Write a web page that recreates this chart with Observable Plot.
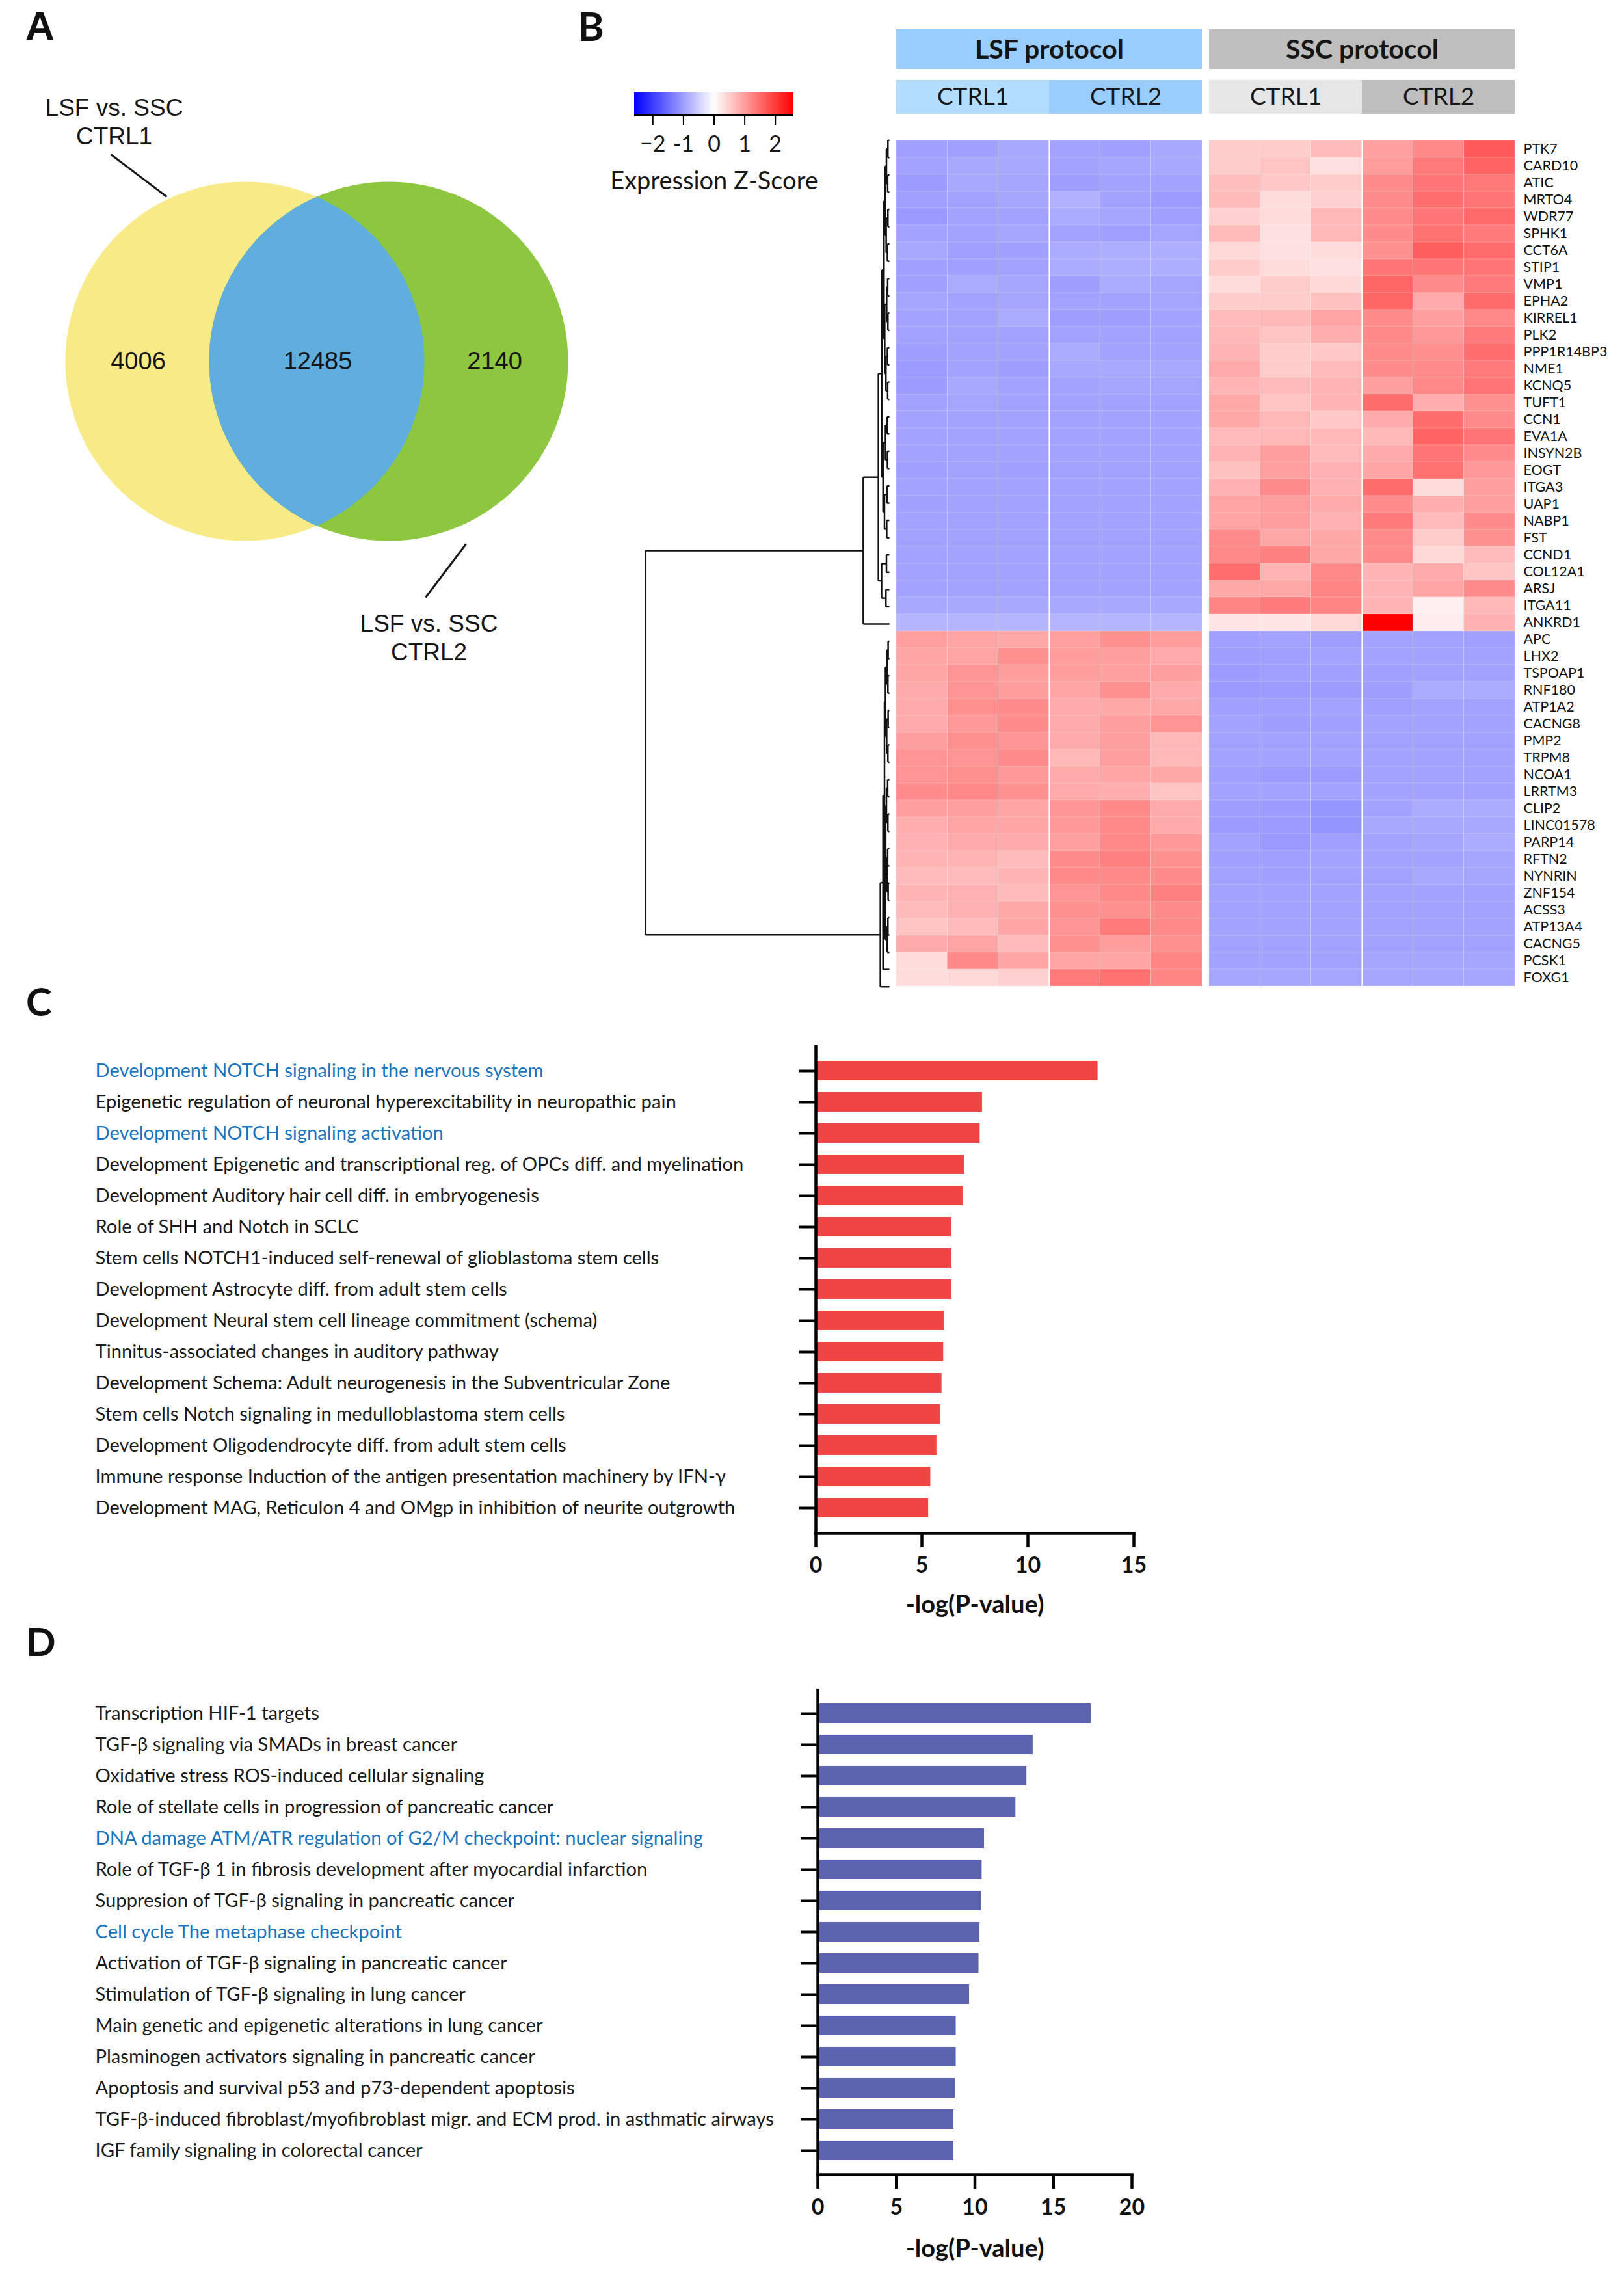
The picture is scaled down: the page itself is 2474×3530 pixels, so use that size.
<!DOCTYPE html>
<html><head><meta charset="utf-8">
<script src="https://cdn.jsdelivr.net/npm/d3@7"></script>
<script src="https://cdn.jsdelivr.net/npm/@observablehq/plot@0.6"></script>
<style>
html,body{margin:0;padding:0;background:#fff;}
#root{position:relative;width:2474px;height:3530px;background:#fff;overflow:hidden;}
.letter{position:absolute;font-weight:bold;color:#111;line-height:1;}
</style></head><body><div id="root"></div>
<script>
// ---------------- DATA ----------------
const vennSetNames = ["LSF vs. SSC\nCTRL1", "LSF vs. SSC\nCTRL2"];
const vennCounts = [4006, 12485, 2140]; // CTRL1 only, shared, CTRL2 only

const protocols = ["LSF protocol", "SSC protocol"];
const controls = ["CTRL1", "CTRL2"];
const replicates = 3;

const genes = ["PTK7","CARD10","ATIC","MRTO4","WDR77","SPHK1","CCT6A","STIP1","VMP1","EPHA2",
  "KIRREL1","PLK2","PPP1R14BP3","NME1","KCNQ5","TUFT1","CCN1","EVA1A","INSYN2B","EOGT",
  "ITGA3","UAP1","NABP1","FST","CCND1","COL12A1","ARSJ","ITGA11","ANKRD1",
  "APC","LHX2","TSPOAP1","RNF180","ATP1A2","CACNG8","PMP2","TRPM8","NCOA1","LRRTM3",
  "CLIP2","LINC01578","PARP14","RFTN2","NYNRIN","ZNF154","ACSS3","ATP13A4","CACNG5","PCSK1","FOXG1"];

// z-scores per gene: LSF CTRL1 x3, LSF CTRL2 x3, SSC CTRL1 x3, SSC CTRL2 x3
const zScores = [
  [-0.97,-0.97,-0.89,-0.94,-0.97,-0.89, 0.52,0.52,0.69,0.97,1.21,1.68],
  [-0.94,-0.89,-0.89,-0.94,-0.92,-0.89, 0.52,0.60,0.32,1.01,1.36,1.58],
  [-1.01,-0.89,-0.92,-0.99,-0.94,-0.94, 0.66,0.56,0.52,1.17,1.41,1.38],
  [-0.97,-0.94,-0.92,-0.81,-0.94,-1.01, 0.70,0.36,0.48,1.17,1.48,1.41],
  [-1.04,-0.94,-0.94,-0.87,-0.92,-0.97, 0.48,0.36,0.72,1.17,1.41,1.52],
  [-0.94,-0.94,-0.92,-0.94,-0.97,-0.92, 0.70,0.32,0.72,1.17,1.44,1.36],
  [-0.89,-0.97,-0.97,-0.86,-0.83,-0.83, 0.40,0.32,0.36,1.13,1.64,1.50],
  [-0.97,-0.97,-0.94,-0.87,-0.83,-0.83, 0.52,0.36,0.32,1.41,1.41,1.41],
  [-0.97,-0.87,-0.92,-0.99,-0.87,-0.92, 0.36,0.52,0.40,1.55,1.17,1.36],
  [-0.92,-0.94,-0.92,-0.94,-0.94,-0.92, 0.52,0.52,0.64,1.55,0.87,1.52],
  [-0.94,-0.94,-0.87,-0.99,-0.99,-0.94, 0.69,0.72,0.92,1.19,0.99,1.21],
  [-0.94,-0.94,-0.94,-0.94,-0.94,-0.94, 0.72,0.60,0.83,1.21,1.04,1.36],
  [-0.99,-0.94,-0.94,-0.87,-0.94,-0.94, 0.76,0.52,0.56,1.19,1.15,1.48],
  [-1.01,-0.94,-0.99,-0.89,-0.89,-0.89, 0.87,0.52,0.69,1.17,1.17,1.36],
  [-1.01,-0.89,-0.94,-0.94,-0.92,-0.92, 0.76,0.69,0.76,0.99,1.21,1.41],
  [-0.94,-0.92,-0.94,-0.94,-0.94,-0.94, 0.89,0.60,0.76,1.50,0.83,1.13],
  [-0.94,-0.94,-0.94,-0.94,-0.94,-0.94, 0.89,0.72,0.56,0.87,1.50,1.17],
  [-0.94,-0.94,-0.94,-0.94,-0.94,-0.94, 0.69,0.72,0.72,0.72,1.58,1.41],
  [-0.94,-0.94,-0.94,-0.94,-0.94,-0.94, 0.76,0.99,0.69,0.87,1.41,1.17],
  [-0.97,-0.94,-0.97,-0.94,-0.94,-0.94, 0.64,0.97,0.81,0.92,1.46,1.04],
  [-0.95,-0.95,-0.94,-0.94,-0.94,-0.94, 0.81,1.17,0.81,1.50,0.36,0.99],
  [-0.96,-0.95,-0.95,-0.95,-0.95,-0.95, 0.92,0.99,0.87,1.17,0.83,0.99],
  [-0.95,-0.94,-0.94,-0.94,-0.94,-0.94, 0.92,0.99,0.81,1.36,0.69,1.17],
  [-0.95,-0.95,-0.95,-0.95,-0.95,-0.95, 1.17,0.89,0.89,1.17,0.52,1.13],
  [-0.95,-0.95,-0.95,-0.95,-0.95,-0.95, 1.21,1.29,0.89,1.17,0.40,0.69],
  [-0.94,-0.94,-0.94,-0.94,-0.94,-0.94, 1.48,0.76,1.21,0.76,0.87,0.60],
  [-0.94,-0.94,-0.94,-0.94,-0.94,-0.94, 0.89,0.89,1.25,0.76,0.92,1.17],
  [-0.89,-0.89,-0.89,-0.89,-0.89,-0.89, 1.25,1.36,1.25,0.76,0.15,0.72],
  [-0.75,-0.75,-0.75,-0.75,-0.75,-0.75, 0.25,0.25,0.40,2.60,0.19,0.81],
  [0.97,0.92,0.89,0.97,1.13,1.01, -0.97,-0.94,-0.99,-0.94,-0.94,-0.97],
  [0.92,0.92,1.13,1.01,0.99,0.87, -0.99,-0.97,-0.94,-0.94,-0.94,-0.94],
  [0.92,1.09,1.01,1.01,0.97,0.99, -1.01,-0.97,-0.97,-0.97,-0.94,-0.94],
  [0.87,1.09,1.01,0.92,1.13,0.87, -1.04,-1.01,-1.01,-0.99,-0.87,-0.87],
  [0.87,1.13,1.17,0.87,0.89,0.89, -0.97,-0.97,-0.94,-0.97,-0.94,-0.94],
  [0.87,1.04,1.17,0.87,0.99,1.09, -0.94,-0.99,-0.97,-0.94,-0.94,-0.94],
  [0.99,1.13,1.09,0.87,0.99,0.72, -0.94,-0.94,-0.94,-0.94,-0.94,-0.94],
  [1.09,1.09,1.17,0.72,0.99,0.72, -0.94,-0.94,-0.94,-0.94,-0.94,-0.94],
  [1.09,1.13,1.04,0.87,0.92,0.89, -0.97,-1.01,-1.01,-0.94,-0.94,-0.94],
  [1.17,1.21,1.13,0.87,0.83,0.60, -0.94,-0.94,-0.94,-0.94,-0.94,-0.94],
  [0.99,0.99,0.92,1.09,1.21,0.87, -0.99,-1.01,-1.07,-0.94,-0.87,-0.87],
  [0.83,0.92,0.92,1.04,1.21,0.87, -1.01,-1.01,-1.09,-0.89,-0.89,-0.89],
  [0.81,0.87,0.87,0.97,1.21,1.04, -0.94,-1.04,-0.97,-0.94,-0.92,-0.86],
  [0.76,0.76,0.69,1.17,1.29,1.13, -0.97,-0.97,-0.94,-0.94,-0.94,-0.92],
  [0.69,0.69,0.76,1.21,1.21,1.17, -0.94,-0.97,-0.94,-0.94,-0.89,-0.92],
  [0.76,0.81,0.69,1.09,1.21,1.29, -0.94,-0.94,-0.94,-0.94,-0.94,-0.94],
  [0.69,0.81,0.89,1.13,1.13,1.17, -0.94,-0.94,-0.94,-0.94,-0.94,-0.94],
  [0.60,0.69,0.92,1.09,1.36,1.21, -0.94,-0.94,-0.94,-0.94,-0.94,-0.94],
  [0.87,0.92,0.69,1.13,1.01,1.13, -0.94,-0.94,-0.94,-0.94,-0.94,-0.94],
  [0.36,1.21,0.92,0.92,0.92,1.25, -0.94,-0.94,-0.94,-0.92,-0.92,-0.92],
  [0.36,0.40,0.48,1.36,1.46,1.25, -0.92,-0.92,-0.92,-0.92,-0.92,-0.92]
];

// row dendrogram, hclust-style merges: negative = gene (1-based), positive = earlier merge; third = height (root = 1)
const dendroMerges = [
  [-1,-2,.006],[-3,-4,.007],[-5,-6,.006],[-7,-8,.008],[-9,-10,.007],[-11,-12,.006],[-13,-14,.008],
  [-15,-16,.007],[-17,-18,.009],[-19,-20,.008],[-21,-22,.010],[-23,-24,.011],[-25,-26,.012],[-27,-28,.014],
  [1,2,.012],[3,4,.013],[5,6,.011],[7,8,.014],[9,10,.016],[11,12,.020],[13,14,.032],
  [15,16,.018],[17,18,.019],[22,23,.022],[19,20,.026],[24,25,.030],[26,21,.045],[27,-29,.107],
  [-30,-31,.005],[-32,-33,.006],[-34,-35,.005],[-36,-37,.006],[-38,-39,.007],[-40,-41,.006],
  [-42,-43,.007],[-44,-45,.005],[-46,-47,.006],
  [29,30,.010],[31,32,.011],[33,34,.012],[35,36,.010],[37,-48,.009],
  [38,39,.016],[40,41,.015],[44,42,.018],[43,45,.020],[46,-49,.026],[47,-50,.037],
  [28,48,1.0]
];

const zTicks = [-2, -1, 0, 1, 2];
const zTickLabels = ["\u22122", "-1", "0", "1", "2"];
const zLimit = 2.6;

const termsC = [
  "Development NOTCH signaling in the nervous system",
  "Epigenetic regulation of neuronal hyperexcitability in neuropathic pain",
  "Development NOTCH signaling activation",
  "Development Epigenetic and transcriptional reg. of OPCs diff. and myelination",
  "Development Auditory hair cell diff. in embryogenesis",
  "Role of SHH and Notch in SCLC",
  "Stem cells NOTCH1-induced self-renewal of glioblastoma stem cells",
  "Development Astrocyte diff. from adult stem cells",
  "Development Neural stem cell lineage commitment (schema)",
  "Tinnitus-associated changes in auditory pathway",
  "Development Schema: Adult neurogenesis in the Subventricular Zone",
  "Stem cells Notch signaling in medulloblastoma stem cells",
  "Development Oligodendrocyte diff. from adult stem cells",
  "Immune response Induction of the antigen presentation machinery by IFN-\u03b3",
  "Development MAG, Reticulon 4 and OMgp in inhibition of neurite outgrowth"
];
const logPC = [13.3, 7.85, 7.74, 7.0, 6.93, 6.4, 6.4, 6.4, 6.05, 6.02, 5.94, 5.87, 5.7, 5.41, 5.31];
const highlightC = ["Development NOTCH signaling in the nervous system", "Development NOTCH signaling activation"];
const ticksC = [0, 5, 10, 15];

const termsD = [
  "Transcription HIF-1 targets",
  "TGF-\u03b2 signaling via SMADs in breast cancer",
  "Oxidative stress ROS-induced cellular signaling",
  "Role of stellate cells in progression of pancreatic cancer",
  "DNA damage ATM/ATR regulation of G2/M checkpoint: nuclear signaling",
  "Role of TGF-\u03b2 1 in fibrosis development after myocardial infarction",
  "Suppresion of TGF-\u03b2 signaling in pancreatic cancer",
  "Cell cycle The metaphase checkpoint",
  "Activation of TGF-\u03b2 signaling in pancreatic cancer",
  "Stimulation of TGF-\u03b2 signaling in lung cancer",
  "Main genetic and epigenetic alterations in lung cancer",
  "Plasminogen activators signaling in pancreatic cancer",
  "Apoptosis and survival p53 and p73-dependent apoptosis",
  "TGF-\u03b2-induced fibroblast/myofibroblast migr. and ECM prod. in asthmatic airways",
  "IGF family signaling in colorectal cancer"
];
const logPD = [17.4, 13.7, 13.3, 12.6, 10.6, 10.45, 10.4, 10.3, 10.25, 9.65, 8.8, 8.8, 8.75, 8.65, 8.65];
const highlightD = ["DNA damage ATM/ATR regulation of G2/M checkpoint: nuclear signaling", "Cell cycle The metaphase checkpoint"];
const ticksD = [0, 5, 10, 15, 20];

// ---------------- HELPERS ----------------
const root = document.getElementById("root");
function place(svg, left, top, font) {
  d3.select(svg).style("position", "absolute").style("left", left + "px").style("top", top + "px")
    .style("background", "transparent").style("overflow", "visible").style("max-width", "none")
    .style("font-family", font || "Lato");
  root.appendChild(svg);
}
function letter(t, left, top, size, font) {
  const d = document.createElement("div");
  d.className = "letter"; d.textContent = t;
  d.style.left = left + "px"; d.style.top = top + "px"; d.style.fontSize = size + "px";
  d.style.fontFamily = font;
  root.appendChild(d);
}
const INK = "#161616";
const LINKBLUE = "#1B75BC";

// ---------------- PANEL A : Venn ----------------
{
  const R = 276;
  const circles = [{cx: 376, cy: 555}, {cx: 597, cy: 555}];
  const countPos = [{x: 212, y: 555}, {x: 488, y: 555}, {x: 760, y: 555}];
  const counts = vennCounts.map((n, i) => ({n, ...countPos[i]}));
  const labels = [{t: vennSetNames[0], x: 175, y: 146}, {t: vennSetNames[1], x: 659, y: 939}];
  const callouts = [{x1: 170, y1: 237, x2: 256, y2: 302}, {x1: 716, y1: 836, x2: 654, y2: 918}];
  const svg = Plot.plot({
    width: 900, height: 1050, margin: 0,
    x: {domain: [0, 900], range: [0, 900], axis: null},
    y: {domain: [0, 1050], range: [0, 1050], axis: null},
    marks: [
      Plot.dot([circles[0]], {x: "cx", y: "cy", r: R, fill: "#F8EA86", stroke: null}),
      Plot.dot([circles[1]], {x: "cx", y: "cy", r: R, fill: "#8DC63F", stroke: null}),
      Plot.dot([circles[1]], {x: "cx", y: "cy", r: R, fill: "#5FAEDD", stroke: null}),
      Plot.text(counts, {x: "x", y: "y", text: d => String(d.n), fontSize: 38, fill: INK, lineAnchor: "middle", fontFamily: "Liberation Sans"}),
      Plot.text(labels, {x: "x", y: "y", text: "t", fontSize: 37, fill: INK, lineAnchor: "top", lineHeight: 1.2, fontFamily: "Liberation Sans"}),
      Plot.link(callouts, {x1: "x1", y1: "y1", x2: "x2", y2: "y2", stroke: INK, strokeWidth: 3})
    ]
  });
  // clip the blue lens to the first circle
  const gs = svg.querySelectorAll('g[aria-label="dot"]');
  const clipId = "venn-lens";
  const defs = d3.select(svg).insert("defs", ":first-child");
  const cp = defs.append("clipPath").attr("id", clipId);
  cp.node().appendChild(gs[0].querySelector("circle").cloneNode(true));
  gs[2].setAttribute("clip-path", `url(#${clipId})`);
  place(svg, 0, 0, "Liberation Sans");
  letter("A", 39, 9, 62, "Liberation Sans");
}

// ---------------- PANEL B : heatmap ----------------
const protoKeys = protocols.map(p => p.split(" ")[0]);
const zColor = {type: "linear", domain: [-zLimit, 0, zLimit], range: ["#0000ff", "#ffffff", "#ff0000"], interpolate: "rgb"};
const nCols = controls.length * replicates;

// colour key
{
  const ramp = d3.range(-zLimit, zLimit, 0.02);
  const svg = Plot.plot({
    width: 400, height: 220, marginLeft: 75, marginRight: 80, marginTop: 42, marginBottom: 143,
    x: {domain: [-zLimit, zLimit], axis: null},
    y: {domain: [0, 1], axis: null},
    color: zColor,
    marks: [
      Plot.rect(ramp, {x1: d => d, x2: d => Math.min(d + 0.05, zLimit), y1: 0, y2: 1, fill: d => d + 0.01, shapeRendering: "crispEdges"}),
      Plot.ruleY([0], {stroke: "#000", strokeWidth: 3}),
      Plot.axisX({ticks: zTicks, tickSize: 15, tickPadding: 16, strokeWidth: 2, stroke: "#000",
        fontSize: 34, fill: INK, tickFormat: d => zTickLabels[zTicks.indexOf(d)], label: null}),
      Plot.text(["Expression Z-Score"], {x: 0, frameAnchor: "bottom", dy: 113, lineAnchor: "bottom", fontSize: 38, fill: INK})
    ]
  });
  place(svg, 900, 100);
  letter("B", 888, 8, 62, "Lato");
}

// column header
{
  const facetOpts = {domain: protoKeys, paddingInner: 0.0228, paddingOuter: 0, axis: null};
  const protoFill = {LSF: "#99CCFF", SSC: "#BEBEBE"};
  const groupFill = {LSF: ["#B3DDFF", "#99CCFF"], SSC: ["#E6E6E6", "#BEBEBE"]};
  const protoRows = protocols.map((p, i) => ({key: protoKeys[i], label: p}));
  const groupRows = protoKeys.flatMap(k => controls.map((c, g) => ({key: k, label: c, g})));
  const svg = Plot.plot({
    width: 1174, height: 180, marginLeft: 77, marginRight: 144, marginTop: 44, marginBottom: 5,
    fx: facetOpts,
    x: {domain: [0, nCols], axis: null},
    y: {domain: ["protocol", "group"], paddingInner: 0.25, paddingOuter: 0, axis: null},
    marks: [
      Plot.barX(protoRows, {fx: "key", y: () => "protocol", x1: 0, x2: nCols, fill: d => protoFill[d.key], insetBottom: -5}),
      Plot.barX(groupRows, {fx: "key", y: () => "group", x1: d => d.g * replicates, x2: d => (d.g + 1) * replicates, fill: d => groupFill[d.key][d.g], insetTop: 4}),
      Plot.text(protoRows, {fx: "key", y: () => "protocol", x: nCols / 2, text: "label", dy: 3, fontSize: 41, fontWeight: "bold", fill: INK}),
      Plot.text(groupRows, {fx: "key", y: () => "group", x: d => d.g * replicates + replicates / 2, text: "label", dy: 2, fontSize: 37, fill: INK})
    ]
  });
  place(svg, 1300, 0);
}

// heatmap cells + gene labels
{
  const cells = [];
  genes.forEach((gene, r) => zScores[r].forEach((z, c) => cells.push({gene, key: protoKeys[Math.floor(c / nCols)], col: c % nCols, z})));
  const svg = Plot.plot({
    width: 1174, height: 1370, marginLeft: 77, marginRight: 144, marginTop: 22, marginBottom: 20,
    fx: {domain: protoKeys, paddingInner: 0.0228, paddingOuter: 0, axis: null},
    x: {domain: [0, nCols], axis: null},
    y: {domain: genes, padding: 0, axis: null},
    color: zColor,
    marks: [
      Plot.barX(cells, {fx: "key", y: "gene", x1: "col", x2: d => d.col + 1, fill: "z", stroke: "#fff", strokeOpacity: 0.18, strokeWidth: 1}),
      Plot.ruleX([replicates], {stroke: "#fff", strokeWidth: 2}),
      Plot.text(genes, {fx: () => protoKeys[1], y: d => d, x: nCols, dx: 13, textAnchor: "start", fontSize: 21.5, fill: "#111"})
    ]
  });
  place(svg, 1300, 180);
}

// dendrogram
{
  const nodes = [];
  const pos = ref => ref < 0 ? {y: -ref - 0.5, h: 0} : nodes[ref - 1];
  const segs = [];
  for (const [a, b, h] of dendroMerges) {
    const A = pos(a), B = pos(b);
    segs.push({x1: h, y1: A.y, x2: h, y2: B.y});
    segs.push({x1: h, y1: A.y, x2: A.h, y2: A.y});
    segs.push({x1: h, y1: B.y, x2: B.h, y2: B.y});
    nodes.push({y: (A.y + B.y) / 2, h});
  }
  const svg = Plot.plot({
    width: 430, height: 1370, margin: 0,
    x: {domain: [1, 0], range: [42, 417], axis: null},
    y: {domain: [0, genes.length], range: [22, 1350], axis: null},
    marks: [
      Plot.link(segs, {x1: "x1", y1: "y1", x2: "x2", y2: "y2", stroke: "#111", strokeWidth: 2.5})
    ]
  });
  place(svg, 950, 180);
}

// ---------------- PANELS C & D : bar charts ----------------
function barPanel({terms, values, highlight, ticks, xmax, fill, top, marginLeft, marginRight, marginTop, marginBottom, height, paddingOuter, tickPadding, titleDy}) {
  const rows = terms.map((t, i) => ({term: t, v: values[i], hi: highlight.includes(t)}));
  const svg = Plot.plot({
    width: 1800, height, marginLeft, marginRight, marginTop, marginBottom,
    x: {domain: [0, xmax], axis: null},
    y: {domain: terms, paddingInner: 0.38, paddingOuter, axis: null},
    marks: [
      Plot.barX(rows, {y: "term", x: "v", fill}),
      Plot.ruleX([0], {stroke: "#000", strokeWidth: 4.5}),
      Plot.frame({anchor: "bottom", stroke: "#000", strokeWidth: 4.5}),
      Plot.axisY({tickSize: 26, strokeWidth: 4, stroke: "#000", tickFormat: () => "", label: null}),
      Plot.axisX({ticks, tickSize: 22, tickPadding, strokeWidth: 4.5, stroke: "#000", fontSize: 34, fontWeight: "bold", fill: "#111", label: null}),
      Plot.text(rows, {y: "term", text: "term", frameAnchor: "left", dx: 146 - marginLeft, textAnchor: "start",
        fill: d => d.hi ? LINKBLUE : "#1a1a1a", fontSize: 29.2}),
      Plot.text(["-log(P-value)"], {frameAnchor: "bottom", dy: titleDy, lineAnchor: "bottom", fontSize: 38, fontWeight: "bold", fill: "#111"})
    ]
  });
  place(svg, 0, top);
}
barPanel({terms: termsC, values: logPC, highlight: highlightC, ticks: ticksC, xmax: 15, fill: "#EE4444",
  top: 1560, height: 940, marginLeft: 1254, marginRight: 57, marginTop: 47, marginBottom: 143, paddingOuter: 0.42, tickPadding: 14, titleDy: 122});
letter("C", 40, 1509, 60, "Lato");
barPanel({terms: termsD, values: logPD, highlight: highlightD, ticks: ticksD, xmax: 20, fill: "#5B63AE",
  top: 2560, height: 940, marginLeft: 1257, marginRight: 60, marginTop: 36, marginBottom: 157, paddingOuter: 0.39, tickPadding: 15, titleDy: 126});
letter("D", 40, 2493, 60, "Lato");
</script>
</body></html>
